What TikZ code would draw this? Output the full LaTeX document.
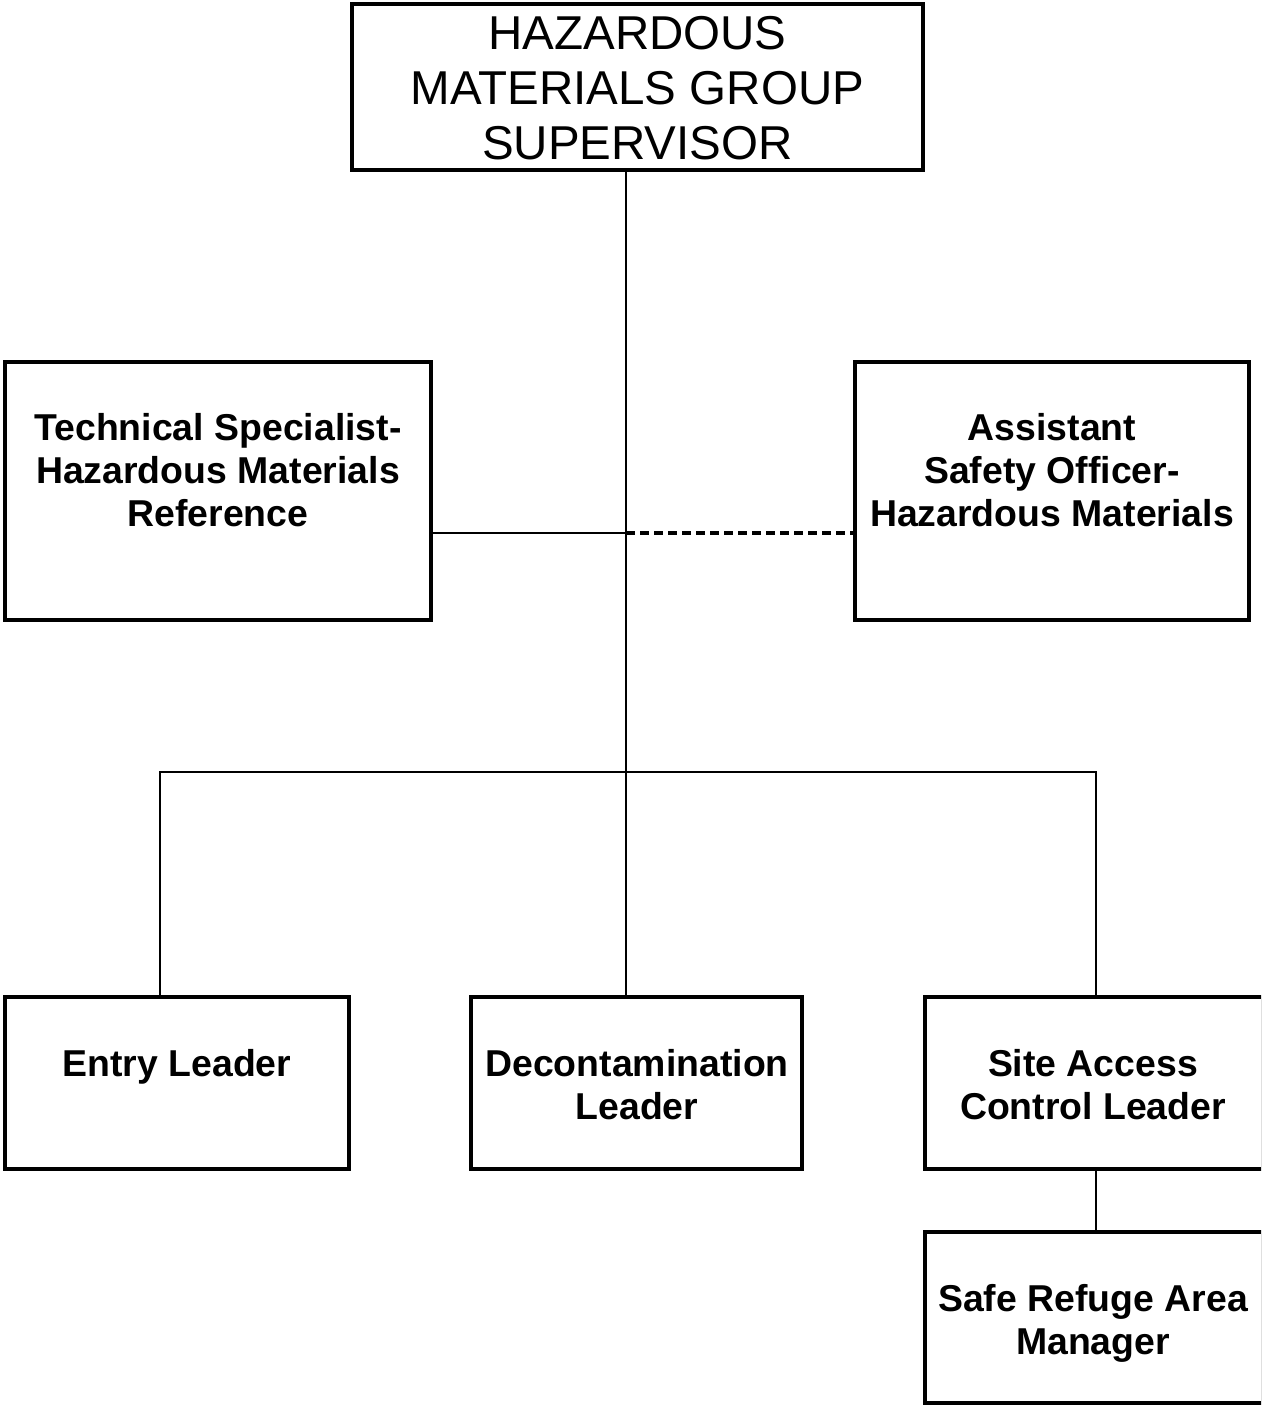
\documentclass[tikz,border=0pt]{standalone}
\usepackage{fontspec}
\setmainfont{Liberation Sans}
\begin{document}
\begin{tikzpicture}[x=1pt,y=-1pt,
  box/.style={draw, line width=4pt, inner sep=0pt},
  conn/.style={line width=1.3pt},
  dconn/.style={line width=3.2pt, dash pattern=on 9pt off 5pt},
  bigtxt/.style={inner sep=0pt, align=center, text depth=0pt, font=\fontsize{47.5}{55}\selectfont},
  txt/.style={inner sep=0pt, align=center, text depth=0pt, font=\fontsize{37.4}{43}\selectfont\bfseries}]
\useasboundingbox (0,0) rectangle (1261,1407);
\clip (0,0) rectangle (1261,1407);
% boxes
\node[box, minimum width=571pt, minimum height=166pt] (sup) at (637.5,87) {};
\node[box, minimum width=426pt, minimum height=258pt] (tech) at (218,491) {};
\node[box, minimum width=394pt, minimum height=258pt] (asst) at (1052,491) {};
\node[box, minimum width=344pt, minimum height=172pt] (entry) at (177,1083) {};
\node[box, minimum width=331pt, minimum height=172pt] (decon) at (636.5,1083) {};
\node[box, minimum width=338pt, minimum height=172pt] (site) at (1094,1083) {};
\node[box, minimum width=338pt, minimum height=171pt] (safe) at (1094,1317.5) {};
% texts
\node[bigtxt] (supt) at (637.5,88) {HAZARDOUS\\MATERIALS GROUP\\SUPERVISOR};
\node[txt] (techt) at (218,469.5) {Technical Specialist-\\Hazardous Materials\\Reference};
\node[txt] (asstt) at (1052,469.5) {Assistant\\Safety Officer-\\Hazardous Materials};
\node[txt] (entryt) at (177,1063) {Entry Leader};
\node[txt] (decont) at (637,1084.5) {Decontamination\\Leader};
\node[txt] (sitet) at (1093,1084.5) {Site Access\\Control Leader};
\node[txt] (safet) at (1093,1319.5) {Safe Refuge Area\\Manager};
% connector coordinates
\coordinate (staff) at (626,533);
\coordinate (trunk) at (626,772);
\coordinate (lb) at (160,772);
\coordinate (rb) at (1096,772);
% connectors
\draw[conn] (sup.south -| trunk) -- (decon.north -| trunk);
\draw[conn] (staff -| tech.east) -- (staff);
\draw[dconn] (staff) -- (staff -| asst.west);
\draw[conn] (entry.north -| lb) -- (lb) -- (rb) -- (site.north -| rb);
\draw[conn] (site.south -| rb) -- (safe.north -| rb);
\end{tikzpicture}
\end{document}
